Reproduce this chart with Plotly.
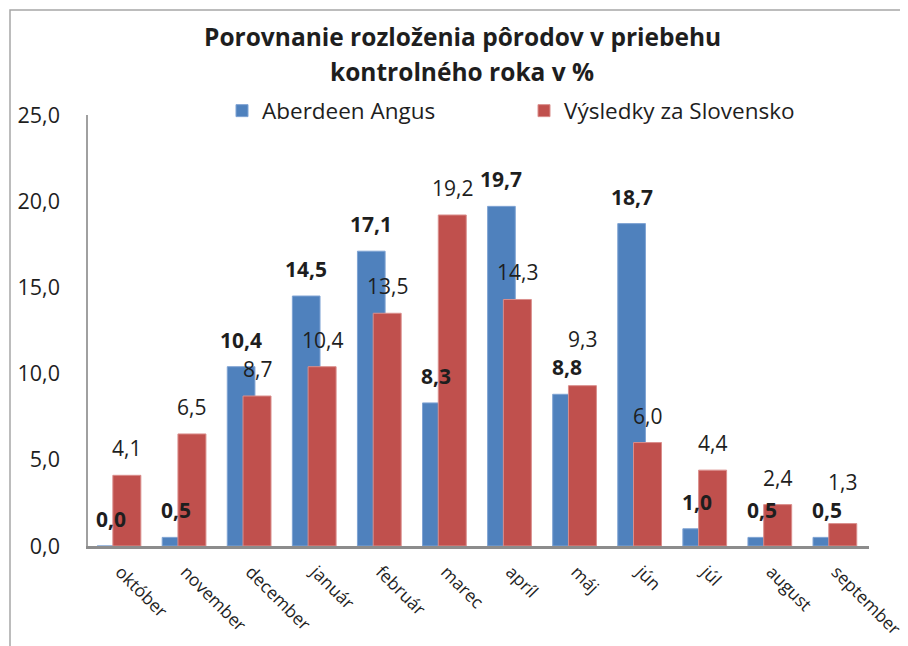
import plotly.graph_objects as go

months = ["október", "november", "december", "január", "február", "marec",
          "apríl", "máj", "jún", "júl", "august", "september"]
aberdeen = [0.0, 0.5, 10.4, 14.5, 17.1, 8.3, 19.7, 8.8, 18.7, 1.0, 0.5, 0.5]
slovensko = [4.1, 6.5, 8.7, 10.4, 13.5, 19.2, 14.3, 9.3, 6.0, 4.4, 2.4, 1.3]
series_names = ["Aberdeen Angus", "Výsledky za Slovensko"]
title_lines = ["Porovnanie rozloženia pôrodov v priebehu", "kontrolného roka v %"]
y_ticks = [0, 5, 10, 15, 20, 25]

# styling
FONT = "Open Sans"
TXT = "#1E1E1E"
BLUE = "#4F81BD"
RED = "#C0504D"
red_label_nudge = [0, 0, 0, 0, 0, 0, 0, 20, 0, 0, 0, 15]  # manual label nudges (px)

def fmt(v):
    return f"{v:.1f}".replace(".", ",")

fig = go.Figure()
fig.add_trace(go.Bar(
    x=months, y=aberdeen, name=series_names[0],
    marker=dict(color=BLUE, line=dict(color="#7FA3D3", width=1)),
    offset=-0.36, width=0.425,
))
fig.add_trace(go.Bar(
    x=months, y=slovensko, name=series_names[1],
    marker=dict(color=RED, line=dict(color="#DA8E8C", width=1)),
    offset=-0.118, width=0.43,
))

annotations = []
for i, m in enumerate(months):
    annotations.append(dict(
        x=m, y=aberdeen[i], xref="x", yref="y", text=fmt(aberdeen[i]),
        showarrow=False, xshift=-9.6, yshift=27, yanchor="middle",
        font=dict(family=FONT, size=21, color=TXT, weight="bold"),
    ))
    annotations.append(dict(
        x=m, y=slovensko[i], xref="x", yref="y", text=fmt(slovensko[i]),
        showarrow=False, xshift=6.3, yshift=27 + red_label_nudge[i], yanchor="middle",
        font=dict(family=FONT, size=21, color=TXT),
    ))

# page has an 8px body margin; figure is sized to fit inside the window
OFF = 8
W, H = 908 - OFF, 646 - OFF
L, R, T, B = 88 - OFF, W - (869 - OFF), 115 - OFF, H - (546 - OFF)
pw, ph = W - L - R, H - T - B
def px_x(px):
    return (px - OFF - L) / pw
def px_y(py):
    return (H - B - (py - OFF)) / ph

for k, line in enumerate(title_lines):
    annotations.append(dict(
        x=px_x(462), y=px_y(37 + 34 * k), xref="paper", yref="paper",
        text=line, showarrow=False, xanchor="center", yanchor="middle",
        font=dict(family=FONT, size=24.5, color=TXT, weight="bold"),
    ))

fig.update_layout(
    width=W, height=H,
    margin=dict(l=L, r=R, t=T, b=B, autoexpand=False),
    paper_bgcolor="white", plot_bgcolor="white",
    barmode="overlay",
    separators=", ",
    font=dict(family=FONT, color=TXT),
    showlegend=True,
    legend=dict(
        orientation="h", x=px_x(222), xanchor="left", y=px_y(111), yanchor="middle",
        font=dict(family=FONT, size=22.5, color=TXT),
        entrywidth=257, entrywidthmode="pixels",
        bgcolor="rgba(0,0,0,0)", traceorder="normal",
    ),
    annotations=annotations,
    shapes=[dict(
        type="rect", xref="paper", yref="paper",
        x0=px_x(10), x1=px_x(940), y0=px_y(680), y1=px_y(10),
        line=dict(color="#A6A6A6", width=1.5), fillcolor="rgba(0,0,0,0)", layer="below",
    )],
    xaxis=dict(
        type="category", tickangle=45, showgrid=False,
        showline=True, linecolor="#8C8C8C", linewidth=2.5,
        ticks="outside", ticklen=6, tickcolor="rgba(0,0,0,0)",
        tickfont=dict(family=FONT, size=17.5, color=TXT),
        range=[-0.5, 11.5],
    ),
    yaxis=dict(
        range=[0, 25], tickvals=y_ticks, tickformat=".1f", showgrid=False,
        showline=True, linecolor="#A0A0A0", linewidth=1.5,
        ticks="", ticklabelstandoff=22,
        tickfont=dict(family=FONT, size=21.5, color=TXT),
        zeroline=False,
    ),
)

fig.write_html("out.html")
